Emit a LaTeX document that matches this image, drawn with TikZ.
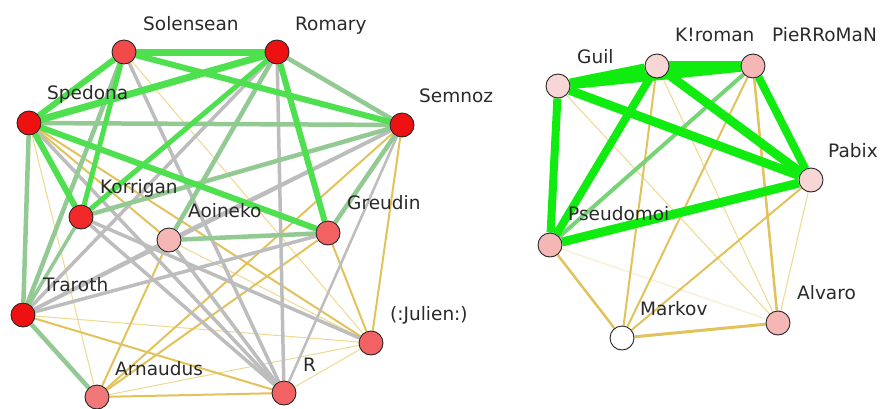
\documentclass[tikz,border=0pt]{standalone}
\usepackage{fontspec}
\setmainfont{DejaVu Sans}
\usetikzlibrary{backgrounds}
\definecolor{ytc}{HTML}{EFD98F}
\definecolor{yc}{HTML}{E2C25A}
\definecolor{gyc}{HTML}{BDBDBD}
\definecolor{gmc}{HTML}{93C993}
\definecolor{gbc}{HTML}{4EE04E}
\definecolor{ggc}{HTML}{10EC10}
\definecolor{red1}{HTML}{EE1111}
\definecolor{red2}{HTML}{F24A4A}
\definecolor{sal}{HTML}{F26262}
\definecolor{sal2}{HTML}{F07878}
\definecolor{pk}{HTML}{F5B6B6}
\definecolor{lpk}{HTML}{F8D6D6}
\definecolor{txt}{HTML}{2A2A2A}
\tikzset{
  vtx/.style={circle, draw=black!85, line width=0.9pt, minimum size=24pt, inner sep=0pt},
  lbl/.style={anchor=base west, inner sep=0pt, text=txt, font=\fontsize{18.5}{21}\selectfont},
  yt/.style={draw=ytc, line width=1pt},
  ye/.style={draw=yc, line width=2pt},
  gy/.style={draw=gyc, line width=3.5pt},
  gm/.style={draw=gmc, line width=4.5pt},
  gb/.style={draw=gbc, line width=6pt},
  gg/.style={draw=ggc, line width=9pt},
}
\begin{document}
\begin{tikzpicture}[x=1pt,y=-1pt]
\useasboundingbox (0,0) rectangle (883,408);
% left graph nodes
\node[vtx, fill=red2] (So) at (124,52) {};
\node[vtx, fill=red1] (Ro) at (277,52) {};
\node[vtx, fill=red1] (Sp) at (29,123) {};
\node[vtx, fill=red1] (Se) at (402,125) {};
\node[vtx, fill=red1!90!white] (Ko) at (81,217) {};
\node[vtx, fill=pk] (Ao) at (169,240) {};
\node[vtx, fill=sal] (Gr) at (328,233) {};
\node[vtx, fill=red1] (Tr) at (23,315) {};
\node[vtx, fill=sal] (Ju) at (371,343) {};
\node[vtx, fill=sal2] (Ar) at (97,397) {};
\node[vtx, fill=sal] (R) at (284,393) {};
% right graph nodes
\node[vtx, fill=lpk] (Gu) at (558,86) {};
\node[vtx, fill=lpk] (Kr) at (657,66) {};
\node[vtx, fill=pk] (Pi) at (753,66) {};
\node[vtx, fill=lpk] (Pa) at (811,180) {};
\node[vtx, fill=pk] (Ps) at (550,245) {};
\node[vtx, fill=white] (Ma) at (622,338) {};
\node[vtx, fill=pk] (Al) at (778,323) {};
% labels
\node[lbl] (lSo) at (143,30) {Solensean};
\node[lbl] (lRo) at (295,30) {Romary};
\node[lbl] (lSp) at (47,99) {Spedona};
\node[lbl] (lSe) at (419,102) {Semnoz};
\node[lbl] (lKo) at (100,193) {Korrigan};
\node[lbl] (lAo) at (188,217) {Aoineko};
\node[lbl] (lGr) at (347,209) {Greudin};
\node[lbl] (lTr) at (43,291) {Traroth};
\node[lbl] (lJu) at (390,320) {(:Julien:)};
\node[lbl] (lAr) at (115,375) {Arnaudus};
\node[lbl] (lR) at (303,371) {R};
\node[lbl] (lGu) at (577,63) {Guil};
\node[lbl] (lKr) at (675,41) {K!roman};
\node[lbl] (lPi) at (772,41) {PieRRoMaN};
\node[lbl] (lPa) at (828,157) {Pabix};
\node[lbl] (lPs) at (568,220) {Pseudomoi};
\node[lbl] (lMa) at (640,315) {Markov};
\node[lbl] (lAl) at (797,299) {Alvaro};
\begin{pgfonlayer}{background}
\fill[white] (0,0) rectangle (883,408);
% thin yellow
\draw[yt] (So) -- (Ju);
\draw[yt] (Sp) -- (Ar);
\draw[yt] (Ao) -- (Ju);
\draw[yt] (Tr) -- (Ju);
\draw[yt] (Ju) -- (Ar);
\draw[yt] (Ju) -- (R);
% yellow
\draw[ye] (Sp) -- (Ao);
\draw[ye] (Sp) -- (Ju);
\draw[ye] (Se) -- (Ju);
\draw[ye] (Se) -- (Ar);
\draw[ye] (Ao) -- (Ar);
\draw[ye] (Gr) -- (Ar);
\draw[ye] (Gr) -- (Ju);
\draw[ye] (Tr) -- (R);
\draw[ye] (Ar) -- (R);
% gray
\draw[gy] (So) -- (R);
\draw[gy] (Ro) -- (R);
\draw[gy] (Ro) -- (Tr);
\draw[gy] (Sp) -- (R);
\draw[gy] (Se) -- (Ao);
\draw[gy] (Se) -- (Tr);
\draw[gy, line width=2.5pt] (Se) -- (R);
\draw[gy] (Ko) -- (R);
\draw[gy] (Ko) -- (Ju);
\draw[gy] (Ao) -- (Tr);
\draw[gy] (Ao) -- (R);
\draw[gy] (Gr) -- (Tr);
% muted green
\draw[gm] (So) -- (Tr);
\draw[gm] (Ro) -- (Se);
\draw[gm] (Ro) -- (Ao);
\draw[gm] (Sp) -- (Se);
\draw[gm] (Sp) -- (Tr);
\draw[gm] (Se) -- (Ko);
\draw[gm] (Se) -- (Gr);
\draw[gm, line width=3.5pt] (Ko) -- (Tr);
\draw[gm] (Ao) -- (Gr);
\draw[gm] (Tr) -- (Ar);
% bright green
\draw[gb, line width=7pt] (So) -- (Ro);
\draw[gb] (So) -- (Sp);
\draw[gb] (So) -- (Se);
\draw[gb, line width=5pt] (So) -- (Ko);
\draw[gb, line width=7pt] (Ro) -- (Sp);
\draw[gb, line width=5pt] (Ro) -- (Ko);
\draw[gb] (Ro) -- (Gr);
\draw[gb] (Sp) -- (Ko);
\draw[gb] (Sp) -- (Gr);
% right graph
\draw[yt] (Gu) -- (Al);
\draw[yt] (Kr) -- (Al);
\draw[yt] (Pa) -- (Al);
\draw[yt, draw=ytc!50] (Ps) -- (Al);
\draw[ye] (Kr) -- (Ma);
\draw[ye] (Pi) -- (Ma);
\draw[ye, line width=2.5pt] (Pi) -- (Al);
\draw[ye] (Pa) -- (Ma);
\draw[ye, line width=2.5pt] (Ps) -- (Ma);
\draw[ye, line width=3pt] (Ma) -- (Al);
\draw[gm, draw=gmc!80!green, line width=4pt] (Pi) -- (Ps);
\draw[gg] (Gu) -- (Pi);
\draw[gg, line width=10pt] (Gu) -- (Kr);
\draw[gg, line width=10pt] (Kr) -- (Pi);
\draw[gg, line width=9pt] (Gu) -- (Pa);
\draw[gg, line width=9pt] (Kr) -- (Pa);
\draw[gg, line width=8pt] (Pi) -- (Pa);
\draw[gg, line width=8pt] (Gu) -- (Ps);
\draw[gg, line width=8pt] (Kr) -- (Ps);
\draw[gg, line width=9pt] (Ps) -- (Pa);
\end{pgfonlayer}
\end{tikzpicture}
\end{document}
